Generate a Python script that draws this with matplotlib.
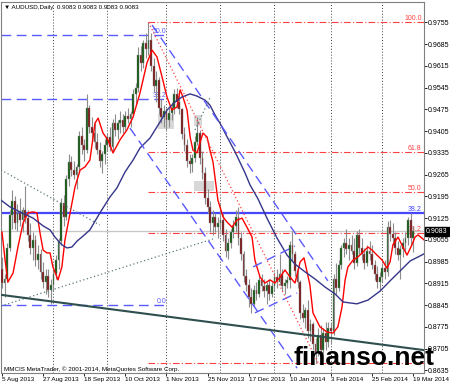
import matplotlib.pyplot as plt
from matplotlib.patches import Rectangle

plt.rcParams['font.family'] = ['Liberation Sans', 'DejaVu Sans']

# AUDUSD daily bars, 5 Aug 2013 .. 20 Mar 2014 (bar index = position on chart)
opens = [0.8960, 0.8915, 0.8930, 0.9030, 0.9135, 0.9180, 0.9110, 0.9140, 0.9120, 0.9150,
         0.9125, 0.9070, 0.9030, 0.9055, 0.8990, 0.9010, 0.8950, 0.8920, 0.8940, 0.8895,
         0.8910, 0.8945, 0.8990, 0.9050, 0.9175, 0.9130, 0.9250, 0.9305, 0.9280, 0.9265,
         0.9290, 0.9390, 0.9360, 0.9345, 0.9480, 0.9420, 0.9400, 0.9370, 0.9345, 0.9310,
         0.9330, 0.9360, 0.9385, 0.9355, 0.9430, 0.9410, 0.9430, 0.9440, 0.9420, 0.9455,
         0.9445, 0.9460, 0.9525, 0.9545, 0.9650, 0.9625, 0.9690, 0.9670, 0.9700, 0.9615,
         0.9550, 0.9570, 0.9480, 0.9450, 0.9470, 0.9440, 0.9465, 0.9480, 0.9525, 0.9500,
         0.9475, 0.9395, 0.9360, 0.9310, 0.9300, 0.9320, 0.9370, 0.9400, 0.9320, 0.9270,
         0.9190, 0.9160, 0.9110, 0.9130, 0.9095, 0.9110, 0.9120, 0.9070, 0.9020, 0.9045,
         0.9080, 0.9100, 0.9130, 0.9060, 0.9010, 0.8940, 0.8910, 0.8870, 0.8850, 0.8895,
         0.8880, 0.8925, 0.8905, 0.8890, 0.8910, 0.8880, 0.8905, 0.8935, 0.8920, 0.8945,
         0.8905, 0.8915, 0.8925, 0.9040, 0.9010, 0.8955, 0.8920, 0.8820, 0.8805, 0.8830,
         0.8760, 0.8785, 0.8720, 0.8690, 0.8750, 0.8700, 0.8755, 0.8725, 0.8770, 0.8760,
         0.8930, 0.8900, 0.8975, 0.9030, 0.9045, 0.9025, 0.9040, 0.9020, 0.8980, 0.9070,
         0.9030, 0.9010, 0.8980, 0.9020, 0.9010, 0.8975, 0.8945, 0.8920, 0.8935, 0.8965,
         0.8950, 0.9095, 0.9075, 0.9060, 0.9030, 0.9005, 0.9025, 0.9045, 0.9060, 0.9120,
         0.9060, 0.9083]
highs = [0.9000, 0.8945, 0.9045, 0.9150, 0.9215, 0.9195, 0.9170, 0.9190, 0.9160, 0.9230,
         0.9150, 0.9110, 0.9080, 0.9070, 0.9040, 0.9025, 0.8985, 0.8960, 0.8960, 0.8930,
         0.8960, 0.9005, 0.9060, 0.9190, 0.9200, 0.9265, 0.9330, 0.9325, 0.9310, 0.9300,
         0.9405, 0.9420, 0.9380, 0.9525, 0.9490, 0.9450, 0.9430, 0.9400, 0.9370, 0.9340,
         0.9380, 0.9400, 0.9420, 0.9445, 0.9460, 0.9440, 0.9470, 0.9460, 0.9470, 0.9480,
         0.9470, 0.9540, 0.9560, 0.9675, 0.9680, 0.9700, 0.9720, 0.9757, 0.9720, 0.9640,
         0.9600, 0.9580, 0.9510, 0.9490, 0.9480, 0.9480, 0.9500, 0.9540, 0.9545, 0.9520,
         0.9480, 0.9420, 0.9380, 0.9330, 0.9330, 0.9390, 0.9450, 0.9410, 0.9340, 0.9290,
         0.9220, 0.9180, 0.9150, 0.9140, 0.9130, 0.9170, 0.9140, 0.9090, 0.9060, 0.9090,
         0.9120, 0.9150, 0.9160, 0.9080, 0.9020, 0.8960, 0.8930, 0.8900, 0.8910, 0.8920,
         0.8940, 0.8945, 0.8930, 0.8920, 0.8930, 0.8920, 0.8950, 0.8960, 0.9010, 0.8960,
         0.8930, 0.8940, 0.9050, 0.9085, 0.9020, 0.8970, 0.8925, 0.8850, 0.8840, 0.8860,
         0.8800, 0.8790, 0.8740, 0.8770, 0.8780, 0.8770, 0.8790, 0.8790, 0.8790, 0.8945,
         0.8980, 0.8990, 0.9040, 0.9060, 0.9090, 0.9060, 0.9070, 0.9060, 0.9085, 0.9090,
         0.9060, 0.9030, 0.9040, 0.9050, 0.9040, 0.8990, 0.8970, 0.8950, 0.8980, 0.8990,
         0.9115, 0.9120, 0.9110, 0.9080, 0.9050, 0.9040, 0.9060, 0.9080, 0.9130, 0.9140,
         0.9100, 0.9083]
lows = [0.8900, 0.8870, 0.8920, 0.9020, 0.9090, 0.9090, 0.9085, 0.9100, 0.9080, 0.9110,
        0.9050, 0.9010, 0.8990, 0.8970, 0.8960, 0.8930, 0.8900, 0.8880, 0.8870, 0.8850,
        0.8890, 0.8930, 0.8960, 0.9040, 0.9100, 0.9120, 0.9230, 0.9260, 0.9250, 0.9220,
        0.9275, 0.9330, 0.9310, 0.9335, 0.9400, 0.9370, 0.9350, 0.9330, 0.9290, 0.9270,
        0.9300, 0.9340, 0.9340, 0.9340, 0.9390, 0.9380, 0.9400, 0.9400, 0.9410, 0.9430,
        0.9420, 0.9450, 0.9490, 0.9530, 0.9600, 0.9610, 0.9640, 0.9650, 0.9600, 0.9530,
        0.9500, 0.9460, 0.9430, 0.9420, 0.9410, 0.9420, 0.9440, 0.9460, 0.9480, 0.9460,
        0.9380, 0.9340, 0.9290, 0.9270, 0.9275, 0.9305, 0.9360, 0.9300, 0.9250, 0.9170,
        0.9140, 0.9080, 0.9070, 0.9080, 0.9060, 0.9090, 0.9050, 0.9000, 0.8995, 0.9030,
        0.9060, 0.9080, 0.9040, 0.8990, 0.8920, 0.8890, 0.8840, 0.8820, 0.8840, 0.8860,
        0.8870, 0.8890, 0.8870, 0.8850, 0.8860, 0.8870, 0.8890, 0.8900, 0.8910, 0.8890,
        0.8880, 0.8900, 0.8900, 0.8990, 0.8940, 0.8900, 0.8800, 0.8790, 0.8770, 0.8740,
        0.8730, 0.8700, 0.8660, 0.8680, 0.8670, 0.8690, 0.8700, 0.8710, 0.8720, 0.8750,
        0.8880, 0.8890, 0.8960, 0.9000, 0.9010, 0.8990, 0.9010, 0.8960, 0.8970, 0.9010,
        0.8990, 0.8960, 0.8970, 0.8990, 0.8960, 0.8925, 0.8900, 0.8890, 0.8920, 0.8930,
        0.8940, 0.9050, 0.9040, 0.9010, 0.8990, 0.8930, 0.9000, 0.9020, 0.9040, 0.9040,
        0.9015, 0.9083]
closes = [0.8915, 0.8930, 0.9030, 0.9135, 0.9180, 0.9110, 0.9140, 0.9120, 0.9150, 0.9125,
          0.9070, 0.9030, 0.9055, 0.8990, 0.9010, 0.8950, 0.8920, 0.8940, 0.8895, 0.8910,
          0.8945, 0.8990, 0.9050, 0.9175, 0.9130, 0.9250, 0.9305, 0.9280, 0.9265, 0.9290,
          0.9390, 0.9360, 0.9345, 0.9480, 0.9420, 0.9400, 0.9370, 0.9345, 0.9310, 0.9330,
          0.9360, 0.9385, 0.9355, 0.9430, 0.9410, 0.9430, 0.9440, 0.9420, 0.9455, 0.9445,
          0.9460, 0.9525, 0.9545, 0.9650, 0.9625, 0.9690, 0.9670, 0.9700, 0.9615, 0.9550,
          0.9570, 0.9480, 0.9450, 0.9470, 0.9440, 0.9465, 0.9480, 0.9525, 0.9500, 0.9475,
          0.9395, 0.9360, 0.9310, 0.9300, 0.9320, 0.9370, 0.9400, 0.9320, 0.9270, 0.9190,
          0.9160, 0.9110, 0.9130, 0.9095, 0.9110, 0.9120, 0.9070, 0.9020, 0.9045, 0.9080,
          0.9100, 0.9130, 0.9060, 0.9010, 0.8940, 0.8910, 0.8870, 0.8850, 0.8895, 0.8880,
          0.8925, 0.8905, 0.8890, 0.8910, 0.8880, 0.8905, 0.8935, 0.8920, 0.8945, 0.8905,
          0.8915, 0.8925, 0.9040, 0.9010, 0.8955, 0.8920, 0.8820, 0.8805, 0.8830, 0.8760,
          0.8785, 0.8720, 0.8690, 0.8750, 0.8700, 0.8755, 0.8725, 0.8770, 0.8760, 0.8930,
          0.8900, 0.8975, 0.9030, 0.9045, 0.9025, 0.9040, 0.9020, 0.8980, 0.9070, 0.9030,
          0.9010, 0.8980, 0.9020, 0.9010, 0.8975, 0.8945, 0.8920, 0.8935, 0.8965, 0.8950,
          0.9095, 0.9075, 0.9060, 0.9030, 0.9005, 0.9025, 0.9045, 0.9060, 0.9120, 0.9060,
          0.9083, 0.9083]

date_labels = ["5 Aug 2013", "27 Aug 2013", "18 Sep 2013", "10 Oct 2013", "1 Nov 2013",
               "25 Nov 2013", "17 Dec 2013", "10 Jan 2014", "3 Feb 2014", "25 Feb 2014",
               "19 Mar 2014"]
date_label_bars = [0, 16, 32, 48, 64, 80, 96, 112, 128, 144, 160]
month_start_bars = [20, 41, 64, 85, 106, 128, 148]
price_ticks = [0.9755, 0.9685, 0.9615, 0.9545, 0.9475, 0.9405, 0.9335, 0.9265, 0.9195,
               0.9125, 0.9055, 0.8985, 0.8915, 0.8845, 0.8775, 0.8705, 0.8635]
last_price = 0.9083

# moving averages (bar position, price)
fast_ma_x = [0, 1.2, 2.3, 4.3, 6.2, 8.2, 10.1, 12.1, 13.6, 14.8,
             16.0, 17.5, 18.7, 19.8, 21.8, 23.3, 24.5, 26.5, 28.4, 30.4,
             32.3, 34.2, 36.2, 37.4, 39.3, 41.2, 43.2, 45.9, 48.6, 51.0,
             53.7, 56.4, 58.4, 60.3, 62.3, 64.2, 66.1, 68.1, 69.3, 70.4,
             72.0, 73.2, 74.3, 75.9, 77.0, 78.2, 79.8, 80.9, 82.1, 84.0,
             86.0, 87.5, 89.5, 91.4, 93.4, 95.3, 97.3, 98.4, 100.4, 102.3,
             104.3, 106.2, 108.2, 110.1, 112.1, 114.0, 116.0, 117.5, 119.8, 121.0,
             123.7, 126.5, 128.8, 130.7, 132.3, 133.5, 134.6, 136.6, 138.5, 140.5,
             142.4, 144.0, 145.9, 147.9, 149.8, 151.0, 152.1, 154.1, 156.0, 157.6,
             159.5, 160.7, 161.9, 164.2]
fast_ma_y = [0.9080, 0.8990, 0.8919, 0.8948, 0.9032, 0.9109, 0.9142, 0.9145, 0.9142, 0.9077,
             0.9022, 0.9013, 0.9013, 0.8968, 0.8926, 0.8968, 0.9055, 0.9142, 0.9225, 0.9280,
             0.9290, 0.9312, 0.9431, 0.9447, 0.9399, 0.9377, 0.9335, 0.9377, 0.9409, 0.9451,
             0.9528, 0.9625, 0.9666, 0.9644, 0.9579, 0.9515, 0.9473, 0.9483, 0.9538, 0.9515,
             0.9473, 0.9386, 0.9344, 0.9335, 0.9367, 0.9399, 0.9386, 0.9344, 0.9306, 0.9183,
             0.9129, 0.9113, 0.9096, 0.9119, 0.9125, 0.9096, 0.9064, 0.8990, 0.8935, 0.8916,
             0.8926, 0.8916, 0.8935, 0.8958, 0.8935, 0.8916, 0.8984, 0.8997, 0.8910, 0.8820,
             0.8775, 0.8758, 0.8755, 0.8775, 0.8839, 0.8926, 0.8968, 0.8990, 0.9000, 0.9016,
             0.9032, 0.9022, 0.9006, 0.8990, 0.8964, 0.8984, 0.9039, 0.9064, 0.9032, 0.9006,
             0.9039, 0.9064, 0.9071, 0.9055]
slow_ma_x = [-0.4, 3.1, 7.0, 12.1, 16.0, 18.7, 20.6, 23.3, 25.3, 27.2,
             29.2, 31.5, 34.2, 38.1, 42.0, 44.7, 47.9, 51.0, 53.7, 57.6,
             61.5, 64.2, 67.3, 70.0, 73.2, 75.9, 79.0, 80.9, 82.9, 84.8,
             86.8, 90.7, 94.6, 96.5, 99.6, 103.1, 107.0, 110.9, 114.0, 117.9,
             121.8, 125.7, 129.6, 132.7, 138.1, 142.4, 147.1, 151.0, 154.9, 158.8,
             161.9, 164.2]
slow_ma_y = [0.9183, 0.9161, 0.9145, 0.9125, 0.9100, 0.9087, 0.9064, 0.9039, 0.9029, 0.9032,
             0.9051, 0.9067, 0.9087, 0.9142, 0.9193, 0.9222, 0.9274, 0.9312, 0.9351, 0.9383,
             0.9435, 0.9473, 0.9499, 0.9515, 0.9525, 0.9518, 0.9505, 0.9489, 0.9457, 0.9431,
             0.9399, 0.9338, 0.9270, 0.9232, 0.9187, 0.9125, 0.9061, 0.9006, 0.8977, 0.8952,
             0.8929, 0.8903, 0.8881, 0.8855, 0.8849, 0.8861, 0.8890, 0.8923, 0.8955, 0.8987,
             0.9000, 0.9010]

# drawn objects: fibo levels, channels, trendlines (bar, price)
red_fib_start = 57
red_fib_prices = [0.9755, 0.9337, 0.9208, 0.9078, 0.8660]
red_fib_labels = ["100.0", "61.8", "50.0", "38.2", ""]
blue_fib_end = 64
blue_fib_prices = [0.9715, 0.9509, 0.8845]
blue_fib_labels = ["50.0", "38.2", "0.0"]
blue_level = 0.9142
channel_lines = [((58.4, 0.9747), (126.8, 0.8923)),
                 ((49.8, 0.9415), (114.8, 0.8642)),
                 ((97.7, 0.8968), (114.0, 0.9035)),
                 ((98.4, 0.8820), (114.8, 0.8884))]
fib_trend = ((57.0, 0.9755), (123.0, 0.8660))
dotted_lines = [((-0.4, 0.9280), (38.1, 0.9103)),
                ((-0.4, 0.8842), (82.1, 0.9058)),
                ((75.1, 0.9409), (80.9, 0.9512))]
support_line = ((-0.4, 0.8878), (164.2, 0.8700))
boxes = [(60.7, 66.9, 0.9413, 0.9461), (74.7, 82.5, 0.9212, 0.9244), (74.7, 77.8, 0.9422, 0.9458)]

fig = plt.figure(figsize=(4.5, 3.85), dpi=100)
ax = fig.add_axes([1 / 450, 12 / 385, 423 / 450, 371 / 385])
ax.set_xlim(-0.39, 164.2)
ax.set_ylim(0.86263, 0.98210)

for x0, x1, y0, y1 in boxes:
    ax.add_patch(Rectangle((x0, y0), x1 - x0, y1 - y0, color='#d8d8d8', zorder=1, lw=0))

for b in month_start_bars:
    ax.axvline(b, color='#404040', lw=0.7, ls=(0, (1, 2)), zorder=1.5)

# horizontal levels
ax.axhline(last_price, color='#c8c8c8', lw=1.0, zorder=1.6)
ax.axhline(blue_level, color='#4646ff', lw=1.6, zorder=2)
ax.text(163.3, blue_level, "38.2", color='#4646ff', fontsize=5, ha='right', va='bottom', zorder=2)
for p, lbl in zip(red_fib_prices, red_fib_labels):
    ax.plot([red_fib_start, 164.2], [p, p], color='#ff4040', lw=0.8, ls=(0, (6, 2, 1, 2)), zorder=2)
    if lbl:
        ax.text(163.3, p, lbl, color='#ff4040', fontsize=5, ha='right', va='bottom', zorder=2)
for p, lbl in zip(blue_fib_prices, blue_fib_labels):
    ax.plot([-0.4, blue_fib_end], [p, p], color='#5a5aff', lw=1.0, ls=(0, (7, 4)), zorder=2)
    ax.text(blue_fib_end, p, lbl, color='#5a5aff', fontsize=5, ha='right', va='bottom', zorder=2)

# candles
idx = list(range(len(closes)))
ax.vlines(idx, lows, highs, color='#8c8c8c', lw=0.8, zorder=3)
body_colors = ['#0a550a' if c >= o else '#7a1010' for o, c in zip(opens, closes)]
ax.bar(idx, [c - o for o, c in zip(opens, closes)], bottom=opens, width=0.7,
       color=body_colors, edgecolor='#8c8c8c', linewidth=0.3, zorder=3.5)

ax.plot(fast_ma_x, fast_ma_y, color='#ff0000', lw=1.0, zorder=4)
ax.plot(slow_ma_x, slow_ma_y, color='#35358a', lw=1.0, zorder=4)

for (xa, ya), (xb, yb) in channel_lines:
    ax.plot([xa, xb], [ya, yb], color='#5a5aff', lw=1.0, ls=(0, (7, 4)), zorder=4.5)
(xa, ya), (xb, yb) = fib_trend
ax.plot([xa, xb], [ya, yb], color='#ff4040', lw=0.9, ls=(0, (1, 2)), zorder=4.5)
for (xa, ya), (xb, yb) in dotted_lines:
    ax.plot([xa, xb], [ya, yb], color='#5f7a7a', lw=0.9, ls=(0, (1, 2)), zorder=4.5)
(xa, ya), (xb, yb) = support_line
ax.plot([xa, xb], [ya, yb], color='#2f4f4f', lw=1.5, zorder=4.5)

# axes styling
for s in ax.spines.values():
    s.set_color('#808080')
    s.set_linewidth(0.8)
ax.yaxis.tick_right()
ax.set_yticks(price_ticks)
ax.set_yticklabels([f"{p:.4f}" for p in price_ticks])
ax.set_xticks(date_label_bars)
ax.set_xticklabels(date_labels)
for t in ax.get_xticklabels():
    t.set_ha('left')
ax.tick_params(axis='y', length=2, width=0.6, pad=1, labelsize=5, colors='black')
ax.tick_params(axis='x', length=2, width=0.6, pad=1, labelsize=4.6, colors='black')

ax.text(1.005, last_price, f"{last_price:.4f}", transform=ax.get_yaxis_transform(),
        fontsize=5, color='white', va='center', ha='left', zorder=6,
        bbox=dict(facecolor='black', edgecolor='black', pad=0.6))

fig.text(4 / 450, 1 - 7 / 385, "\u25bc AUDUSD,Daily  0.9083 0.9083 0.9083 0.9083",
         fontsize=4.5, va='center', ha='left')
fig.text(4 / 450, 1 - 369 / 385, "MMCIS MetaTrader, \u00a9 2001-2014, MetaQuotes Software Corp.",
         fontsize=4.5, va='center', ha='left')
fig.text(293 / 450, 1 - 365 / 385, "finanso.net", fontsize=19, fontweight='bold',
         family='Liberation Sans', va='baseline', ha='left', zorder=10)

fig.savefig("out.png", dpi=100)
